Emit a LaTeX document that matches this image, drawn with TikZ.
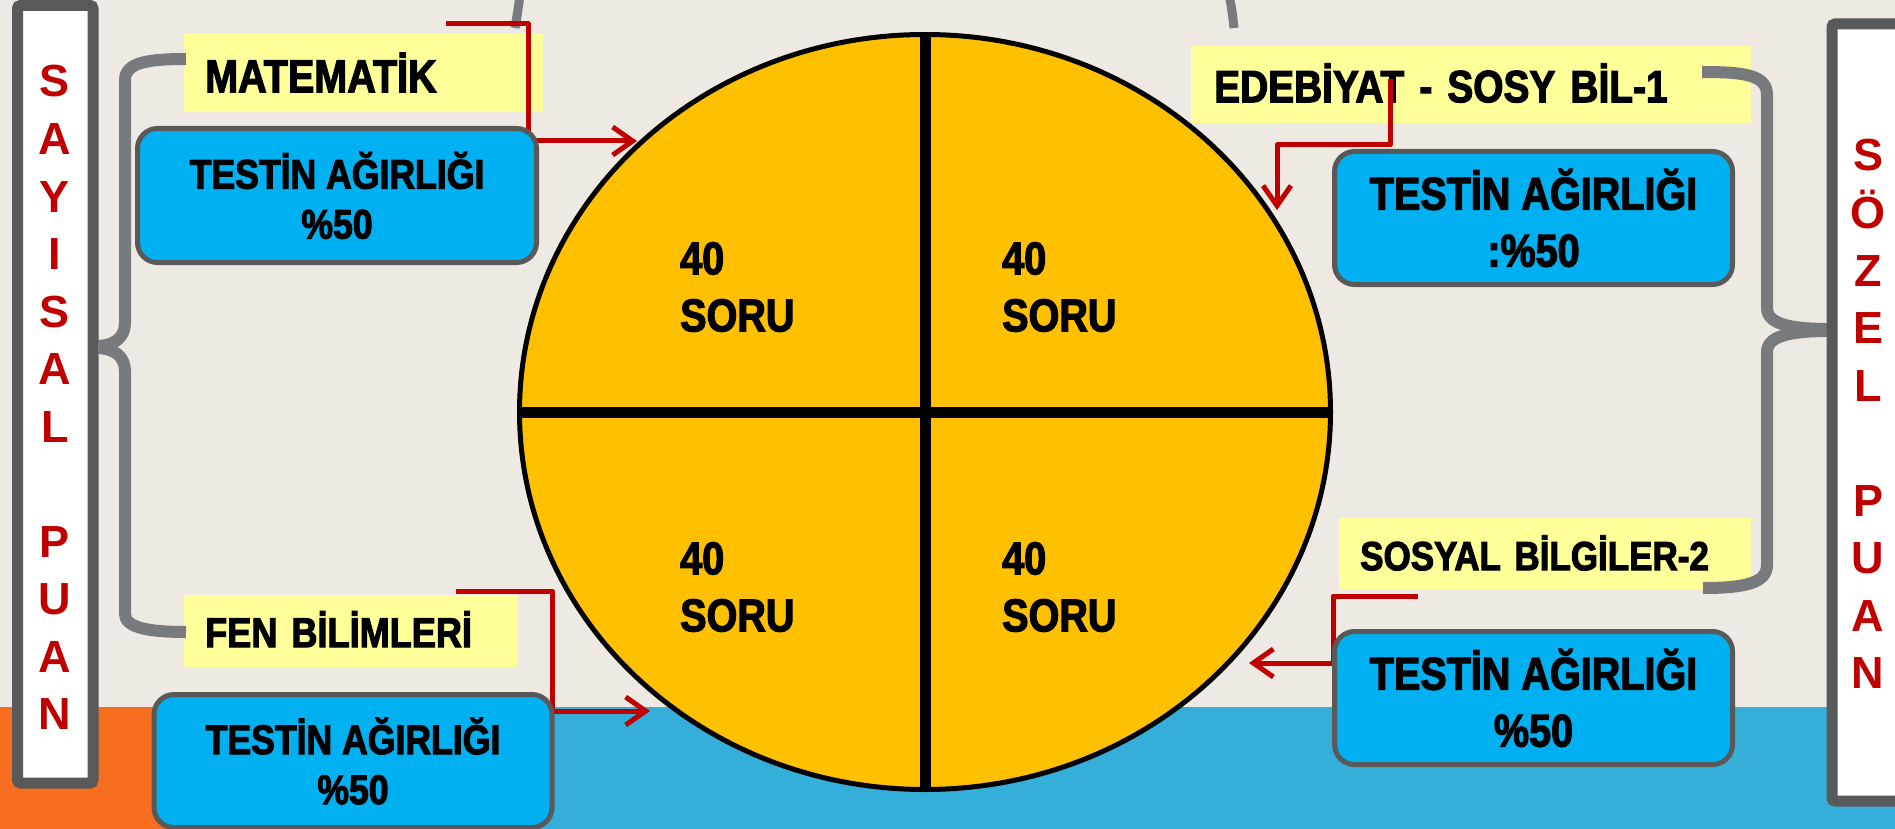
\documentclass[tikz,border=0pt]{standalone}
\usepackage{fontspec}
\setmainfont{Liberation Sans}
\newfontfamily\condf[FakeStretch=0.86, FakeBold=2.5]{Liberation Sans}
\newcommand\tsz[2]{\condf\bfseries\fontsize{#1}{#2}\selectfont}
\usetikzlibrary{arrows.meta,shapes.geometric}
\definecolor{bgc}{HTML}{EEEAE3}
\definecolor{yel}{HTML}{FFFF99}
\definecolor{cyanb}{HTML}{00B0F0}
\definecolor{bord}{HTML}{595959}
\definecolor{frm}{HTML}{58595B}
\definecolor{brc}{HTML}{797A7D}
\definecolor{gold}{HTML}{FFC000}
\definecolor{redc}{HTML}{C00000}
\definecolor{orS}{HTML}{F86E20}
\definecolor{blS}{HTML}{36AEDA}
\begin{document}
\begin{tikzpicture}[x=1pt,y=-1pt,
  ybox/.style={fill=yel, anchor=north west, inner xsep=21pt, inner ysep=0pt, align=left, text depth=0pt},
  bbox/.style={fill=cyanb, draw=bord, line width=5pt, rounded corners=20pt, inner sep=0pt, align=center, minimum width=398pt, minimum height=133pt},
  lbl/.style={font=\tsz{41.4}{50}},
  rbl/.style={font=\tsz{46}{57}},
  frame/.style={draw=frm, fill=white, line width=11pt, rounded corners=3pt},
  vlet/.style={font=\bfseries\fontsize{45}{54}\selectfont, text=redc, inner sep=0pt, anchor=base},
  brace/.style={draw=brc, line width=12pt, line join=round},
  redline/.style={draw=redc, line width=5pt, line join=round},
  redarrow/.style={redline, -{Straight Barb[length=20pt,width=28pt]}},
  ctext/.style={font=\tsz{46}{57}, align=left, anchor=north west, inner sep=0pt}
]
\useasboundingbox (0,0) rectangle (1895,829);
\clip (0,0) rectangle (1895,829);
\fill[bgc] (0,0) rectangle (1895,829);
\fill[orS] (0,707) rectangle (350,829);
\fill[blS] (350,707) rectangle (1895,829);

% top brace fragments
\draw[brace, line width=9pt] (520,-5) .. controls (518,10) .. (515,28);
\draw[brace, line width=9pt] (1229,-5) .. controls (1232,10) .. (1234,28);

% circle
\node[ellipse, draw=black, fill=gold, line width=5pt, minimum width=811pt, minimum height=755pt, inner sep=0pt] (circ) at (925,412) {};
\draw[line width=11pt] (circ.north) -- (circ.south);
\draw[line width=11pt] (circ.west) -- (circ.east);
\node[ctext] (q1) at (680,242) {40\\SORU};
\node[ctext] (q2) at (1002,242) {40\\SORU};
\node[ctext] (q3) at (680,542) {40\\SORU};
\node[ctext] (q4) at (1002,542) {40\\SORU};

% yellow labels
\node[ybox, text width=317pt, minimum height=79pt, text height=39pt, font=\tsz{46}{55}] (mat) at (184,33) {MATEMATİK};
\node[ybox, text width=291pt, minimum height=72pt, text height=32pt, font=\tsz{42}{50}] (fen) at (184,595) {FEN BİLİMLERİ};
\node[ybox, inner xsep=23pt, text width=514pt, minimum height=77pt, text height=35pt, font=\tsz{45.2}{54}] (edb) at (1191,46) {EDEBİYAT - SOSY BİL-1};
\node[ybox, text width=370pt, minimum height=71pt, text height=33pt, font=\tsz{40.7}{50}] (sos) at (1339,518) {SOSYAL BİLGİLER-2};

% braces
\draw[brace] (186,59) .. controls (150,59) and (125,62) .. (125,80) -- (125,322) .. controls (125,340) and (112,345) .. (99,346);
\draw[brace] (99,348) .. controls (112,349) and (125,354) .. (125,372) -- (125,614) .. controls (125,628) and (150,632) .. (186,632);
\draw[brace] (1702,72) .. controls (1745,72) and (1767,75) .. (1767,95) -- (1767,308) .. controls (1767,324) and (1790,329) .. (1830,329);
\draw[brace] (1830,331) .. controls (1790,331) and (1767,336) .. (1767,352) -- (1767,565) .. controls (1767,583) and (1745,588) .. (1703,588);

% side frames
\draw[frame] (17.5,5.5) rectangle (93,783);
\draw[frame] (1832,24) rectangle (1912,801);
\foreach \c [count=\i from 0] in {S,A,Y,I,S,A,L} \node[vlet] (sa\i) at (55,{97+57.5*\i}) {\c};
\foreach \c [count=\i from 0] in {P,U,A,N} \node[vlet] (pa\i) at (55,{557+57.5*\i}) {\c};
\foreach \c [count=\i from 0] in {S,Ö,Z,E,L} \node[vlet] (so\i) at (1868,{171+57.5*\i}) {\c};
\foreach \c [count=\i from 0] in {P,U,A,N} \node[vlet] (pb\i) at (1868,{516+57.5*\i}) {\c};

% red connectors
\coordinate (m0) at (446,24); \coordinate (m1) at (637,141);
\draw[redarrow] (m0) -| (528,141) -- (m1);
\coordinate (f0) at (456,591); \coordinate (f1) at (650,711);
\draw[redarrow] (f0) -| (552,711) -- (f1);
\coordinate (e0) at (1390,79); \coordinate (e1) at (1277,210);
\draw[redarrow] (e0) |- (1277,145) -- (e1);
\coordinate (s0) at (1418,596); \coordinate (s1) at (1249,663);
\draw[redarrow] (s0) -| (1333,663) -- (s1);

% blue weight boxes
\node[bbox, lbl, minimum width=399pt, minimum height=134pt] (w1) at (337,195.5) {TESTİN AĞIRLIĞI\\\%50};
\node[bbox, lbl] (w2) at (353,761) {TESTİN AĞIRLIĞI\\\%50};
\node[bbox, rbl] (w3) at (1533.5,218) {TESTİN AĞIRLIĞI\\:\%50};
\node[bbox, rbl] (w4) at (1533.5,698) {TESTİN AĞIRLIĞI\\\%50};
\end{tikzpicture}
\end{document}
